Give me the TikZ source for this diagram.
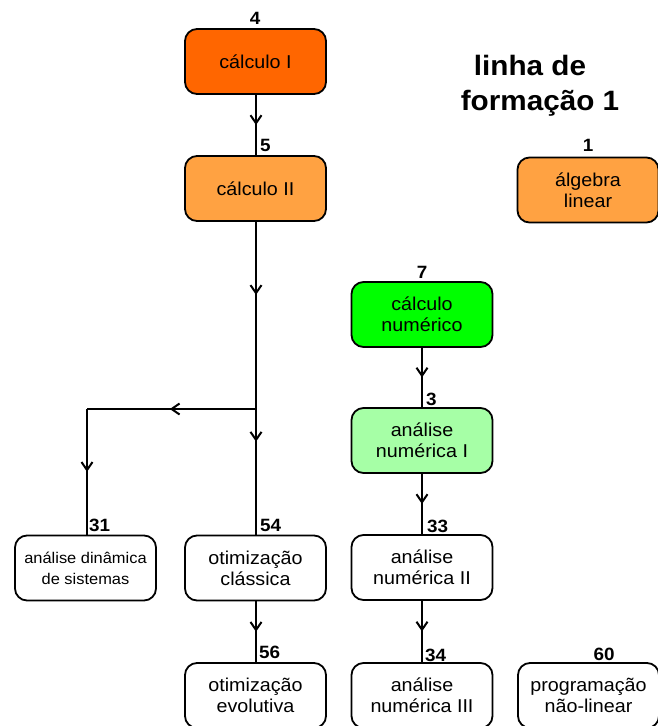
\documentclass[tikz,border=0pt]{standalone}
\usepackage{fontspec}
\setmainfont[FakeStretch=1.06]{Liberation Sans}
\usetikzlibrary{arrows.meta,decorations.markings}

\definecolor{orangeA}{RGB}{255,102,0}
\definecolor{orangeB}{RGB}{255,162,66}
\definecolor{greenA}{RGB}{0,255,0}
\definecolor{greenB}{RGB}{166,255,166}

\tikzset{
  course/.style={draw=black, line width=1.8pt, rounded corners=12pt,
    minimum width=141pt, minimum height=65pt, inner sep=0pt,
    align=center, font=\fontsize{18.6}{21}\selectfont},
  smallcourse/.style={course, font=\fontsize{15.5}{21}\selectfont},
  code/.style={inner sep=0pt, font=\bfseries\fontsize{17.8}{20}\selectfont},
  link/.style={line width=2pt},
  midarrow/.style={link, postaction={decorate, decoration={markings,
    mark=at position #1 with {\arrow[line width=2pt]{Straight Barb[length=8pt,width=11pt]}}}}},
  title/.style={align=center, inner sep=0pt,
    font=\bfseries\fontsize{28}{35}\selectfont}
}

\begin{document}
\begin{tikzpicture}[x=1pt,y=-1pt]
\useasboundingbox (0,0) rectangle (658,726);

% course boxes
\node[course, fill=orangeA] (c1) at (255.5,61.5) {cálculo I};
\node[course, fill=orangeB] (c2) at (255.5,188.5) {cálculo II};
\node[course, fill=orangeB] (al) at (588,190) {álgebra\\linear};
\node[course, fill=greenA] (cn) at (422,314.5) {cálculo\\numérico};
\node[course, fill=greenB] (an1) at (422,440.5) {análise\\numérica I};
\node[course, fill=white] (an2) at (422,567.5) {análise\\numérica II};
\node[course, fill=white] (an3) at (422,695.5) {análise\\numérica III};
\node[smallcourse, fill=white] (ad) at (85.5,568) {análise dinâmica\\de sistemas};
\node[course, fill=white] (oc) at (255.5,568) {otimização\\clássica};
\node[course, fill=white] (oe) at (255.5,695.5) {otimização\\evolutiva};
\node[course, fill=white] (pnl) at (588.5,695.5) {programação\\não-linear};

% course codes
\node[code] (n4) at (255,18) {4};
\node[code, anchor=west] (n5) at (260,145) {5};
\node[code] (n1) at (588,145) {1};
\node[code] (n7) at (422,272) {7};
\node[code, anchor=west] (n3) at (426,399) {3};
\node[code, anchor=west] (n31) at (89,525) {31};
\node[code, anchor=west] (n54) at (260,525) {54};
\node[code, anchor=west] (n33) at (427,526) {33};
\node[code, anchor=west] (n56) at (259,652) {56};
\node[code, anchor=west] (n34) at (425,655) {34};
\node[code] (n60) at (604,654) {60};

% title
\node[title] (ttl) at (540,86) {linha de\hspace*{20pt}\\formação 1};

% prerequisite links
\coordinate (j) at (256,409);
\coordinate (k) at (87,409);
\draw[midarrow=0.5] (c1.south -| j) -- (c2.north -| j);
\draw[midarrow=0.39] (c2.south -| j) -- (j);
\draw[midarrow=0.26] (j) -- (oc.north -| j);
\draw[midarrow=0.51] (j) -- (k);
\draw[midarrow=0.5] (k) -- (ad.north -| k);
\draw[midarrow=0.5] (oc.south -| j) -- (oe.north -| j);
\draw[midarrow=0.5] (cn) -- (an1);
\draw[midarrow=0.5] (an1) -- (an2);
\draw[midarrow=0.5] (an2) -- (an3);
\end{tikzpicture}
\end{document}
